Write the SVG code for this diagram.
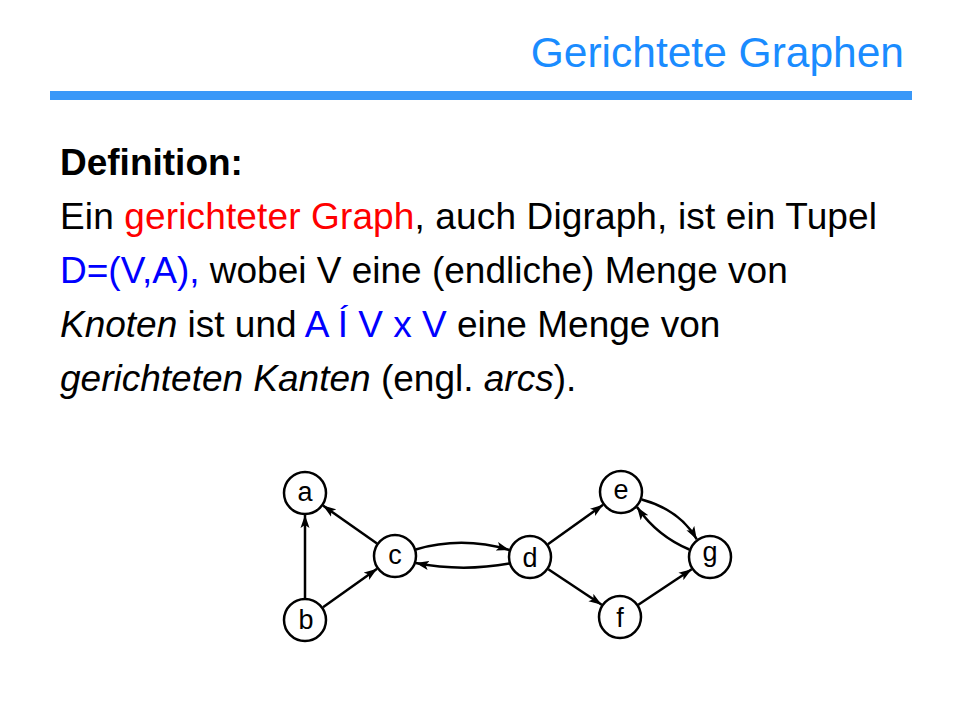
<svg xmlns="http://www.w3.org/2000/svg" width="960" height="720" viewBox="0 0 960 720">
<style>
.t{font-family:"Liberation Sans",Arial,sans-serif;font-size:37px;fill:#000}
.title{font-family:"Liberation Sans",Arial,sans-serif;font-size:42.5px;fill:#1a8cff}
.red{fill:#ff0000}
.blue{fill:#0000ff}
.it{font-style:italic}
.node circle{fill:#fff;stroke:#000;stroke-width:2.5}
.node text{font-family:"Liberation Sans",Arial,sans-serif;font-size:27px;fill:#000;text-anchor:middle}
.edge{fill:none;stroke:#000;stroke-width:2.5;marker-end:url(#ah)}
</style>
<defs>
<marker id="ah" markerUnits="userSpaceOnUse" markerWidth="14" markerHeight="10" refX="13" refY="5" orient="auto">
<path d="M0,0.5 L13,5 L0,9.5 L3,5 Z" fill="#000"/>
</marker>
</defs>
<rect x="0" y="0" width="960" height="720" fill="#fff"/>
<text class="title" x="904" y="67" text-anchor="end">Gerichtete Graphen</text>
<rect x="50" y="91" width="862" height="9" fill="#3a98f8"/>
<text class="t" x="60" y="175" font-weight="bold">Definition:</text>
<text class="t" x="60" y="229" textLength="817" lengthAdjust="spacing">Ein <tspan class="red">gerichteter  Graph</tspan>, auch Digraph, ist ein Tupel</text>
<text class="t" x="60" y="283"><tspan class="blue">D=(V,A),</tspan> wobei V eine (endliche) Menge von</text>
<text class="t" x="60" y="337"><tspan class="it">Knoten</tspan> ist und <tspan class="blue">A Í V x V</tspan> eine Menge von</text>
<text class="t" x="60" y="391"><tspan class="it">gerichteten Kanten</tspan> (engl. <tspan class="it">arcs</tspan>).</text>
<g id="connectors">
<path class="edge" d="M305,598 L305,515"/>
<path class="edge" d="M377,543.4 L323,505.6"/>
<path class="edge" d="M323,607.2 L377.1,568.8"/>
<path class="edge" d="M415.7,549.5 Q462,536 509.3,550"/>
<path class="edge" d="M509.3,563.5 Q462,572 415.7,563"/>
<path class="edge" d="M547.9,544.2 L603.1,504.8"/>
<path class="edge" d="M548.3,569.2 L601.7,604.8"/>
<path class="edge" d="M638.3,604.8 L691.7,569.2"/>
<path class="edge" d="M641.7,499.5 Q680,510 696.8,539.4"/>
<path class="edge" d="M689.3,549.5 Q657,536 637,507"/>
</g>
<g id="node-a" class="node"><circle cx="305" cy="493" r="21"/><text x="305" y="501">a</text></g>
<g id="node-b" class="node"><circle cx="305" cy="620" r="21"/><text x="306" y="629">b</text></g>
<g id="node-c" class="node"><circle cx="395" cy="556" r="21"/><text x="395" y="564">c</text></g>
<g id="node-d" class="node"><circle cx="530" cy="557" r="21"/><text x="530" y="567">d</text></g>
<g id="node-e" class="node"><circle cx="621" cy="492" r="21"/><text x="621" y="499">e</text></g>
<g id="node-f" class="node"><circle cx="620" cy="617" r="21"/><text x="620" y="627">f</text></g>
<g id="node-g" class="node"><circle cx="710" cy="557" r="21"/><text x="710" y="561">g</text></g>
</svg>
